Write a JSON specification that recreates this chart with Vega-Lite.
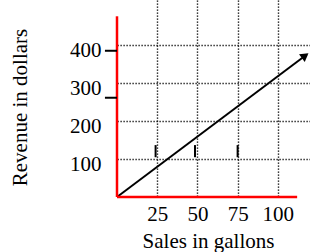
{
  "$schema": "https://vega.github.io/schema/vega-lite/v6.json",
  "autosize": "none",
  "width": 193,
  "height": 197,
  "padding": {"left": 117, "top": 0, "right": 0, "bottom": 55},
  "background": "white",
  "config": {
    "view": {"stroke": null},
    "font": "Liberation Serif"
  },
  "datasets": {
    "redaxes": [
      {"x": 0, "y": 0, "x2": 0, "y2": 477},
      {"x": 0, "y": 0, "x2": 112, "y2": 0}
    ],
    "vticks": [
      {"x": 24, "y": 105, "y2": 137},
      {"x": 48.5, "y": 105, "y2": 137},
      {"x": 75, "y": 105, "y2": 137}
    ],
    "hticks": [
      {"x": -7.5, "x2": 0, "y": 386},
      {"x": -7.5, "x2": 0, "y": 262}
    ],
    "line": [
      {"sales": 0, "revenue": 0},
      {"sales": 118, "revenue": 376}
    ],
    "arrow": [
      {"sales": 117, "revenue": 373}
    ]
  },
  "layer": [
    {
      "data": {"name": "line"},
      "mark": {"type": "line", "color": "black", "strokeWidth": 2},
      "encoding": {
        "x": {
          "field": "sales", "type": "quantitative",
          "scale": {"domain": [0, 120], "nice": false, "zero": false},
          "axis": {
            "values": [25, 50, 75, 100],
            "domain": false, "ticks": false,
            "grid": true, "gridColor": "black", "gridDash": [1.2, 1.8], "gridWidth": 1.4, "gridOpacity": 1,
            "labelFont": "Liberation Serif", "labelFontSize": 21, "labelColor": "black",
            "labelBaseline": "alphabetic", "labelPadding": 23,
            "title": "Sales in gallons",
            "titleFont": "Liberation Serif", "titleFontSize": 21, "titleFontWeight": "normal", "titleColor": "black",
            "titleX": 91, "titleY": 50, "titleBaseline": "alphabetic", "titleAlign": "center", "titleAnchor": null
          }
        },
        "y": {
          "field": "revenue", "type": "quantitative",
          "scale": {"domain": [0, 520], "nice": false, "zero": false},
          "axis": {
            "values": [100, 200, 300, 400],
            "domain": false, "ticks": false,
            "grid": true, "gridColor": "black", "gridDash": [1.2, 1.8], "gridWidth": 1.4, "gridOpacity": 1,
            "labelFont": "Liberation Serif", "labelFontSize": 21, "labelColor": "black",
            "labelPadding": 16, "labelOffset": 5,
            "title": "Revenue in dollars",
            "titleFont": "Liberation Serif", "titleFontSize": 21, "titleFontWeight": "normal", "titleColor": "black",
            "titleX": -97, "titleY": 107, "titleAngle": -90, "titleBaseline": "middle", "titleAlign": "center", "titleAnchor": null
          }
        }
      }
    },
    {
      "data": {"name": "redaxes"},
      "mark": {"type": "rule", "color": "#ff0000", "strokeWidth": 2.5},
      "encoding": {
        "x": {"field": "x", "type": "quantitative"},
        "x2": {"field": "x2"},
        "y": {"field": "y", "type": "quantitative"},
        "y2": {"field": "y2"}
      }
    },
    {
      "data": {"name": "vticks"},
      "mark": {"type": "rule", "color": "black", "strokeWidth": 2},
      "encoding": {
        "x": {"field": "x", "type": "quantitative"},
        "y": {"field": "y", "type": "quantitative"},
        "y2": {"field": "y2"}
      }
    },
    {
      "data": {"name": "hticks"},
      "mark": {"type": "rule", "color": "black", "strokeWidth": 2},
      "encoding": {
        "x": {"field": "x", "type": "quantitative"},
        "x2": {"field": "x2"},
        "y": {"field": "y", "type": "quantitative"}
      }
    },
    {
      "data": {"name": "arrow"},
      "mark": {"type": "point", "shape": "triangle-up", "filled": true, "color": "black", "opacity": 1, "size": 90, "angle": 53},
      "encoding": {
        "x": {"field": "sales", "type": "quantitative"},
        "y": {"field": "revenue", "type": "quantitative"}
      }
    }
  ]
}
